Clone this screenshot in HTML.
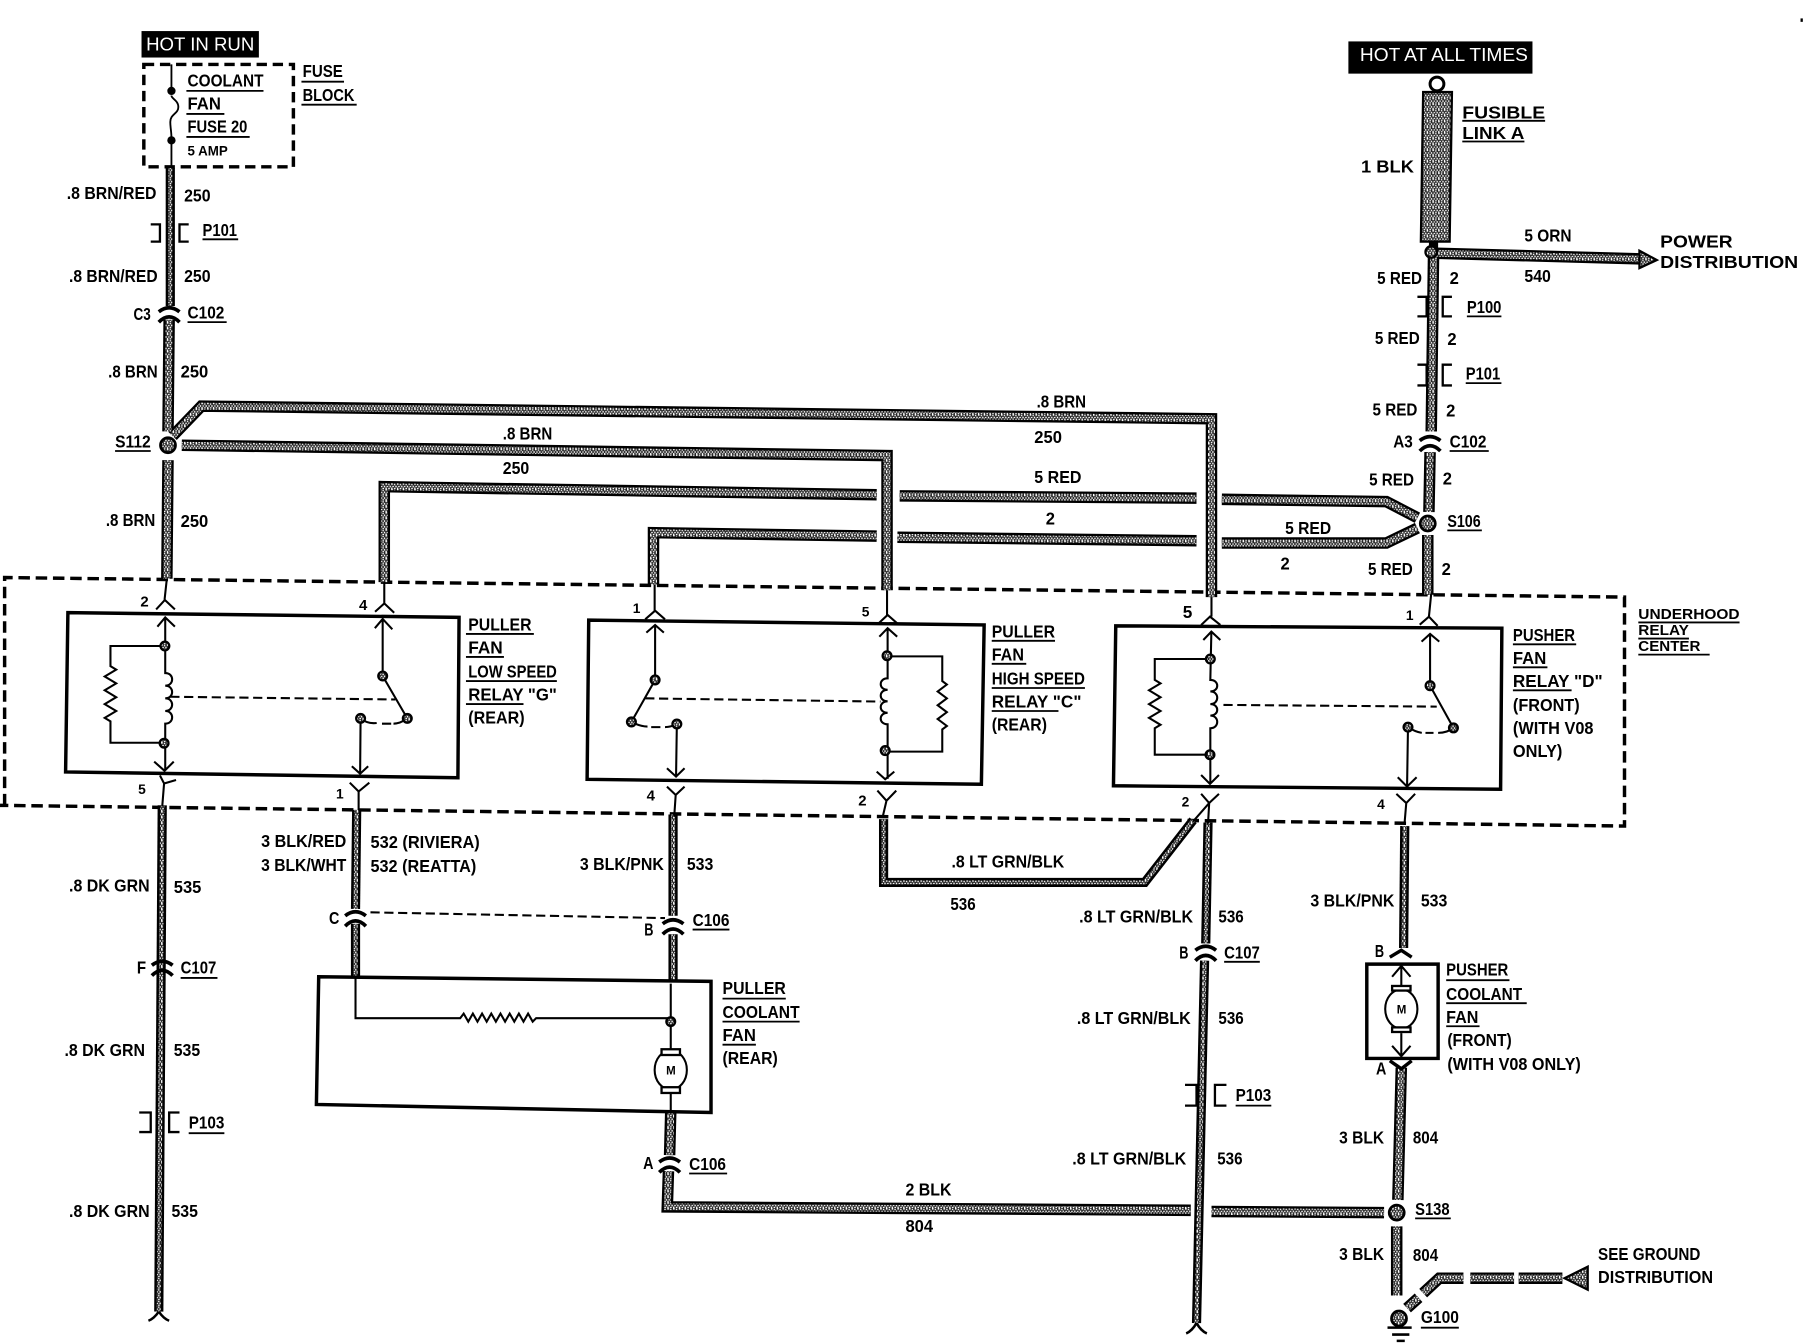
<!DOCTYPE html>
<html><head><meta charset="utf-8"><title>Coolant fan wiring</title>
<style>
html,body{margin:0;padding:0;background:#fff}
svg{display:block}
text{font-family:"Liberation Sans Narrow","Liberation Sans",sans-serif;font-weight:bold;font-size:15px;fill:#000;letter-spacing:0}
.s{font-family:"Liberation Sans",sans-serif;font-weight:bold}
.w{font-family:"Liberation Sans",sans-serif;font-weight:normal;fill:#fff;font-size:16px}
.ln{fill:none;stroke:#000;stroke-width:1.6}
.b{fill:none;stroke:#000;stroke-width:3}
</style></head><body>
<svg xmlns="http://www.w3.org/2000/svg" width="1804" height="1344" viewBox="0 0 1568 1168.2">
<defs>
<pattern id="sp" width="5" height="5" patternUnits="userSpaceOnUse">
<rect width="5" height="5" fill="#222"/>
<rect x="0" y="0" width="1.4" height="1.4" fill="#fff"/><rect x="2.4" y="0.6" width="1.2" height="1.2" fill="#fff"/>
<rect x="1" y="2.4" width="1.4" height="1" fill="#fff"/><rect x="3.6" y="2.2" width="1.2" height="1.4" fill="#fff"/>
<rect x="0" y="3.8" width="1.2" height="1.2" fill="#fff"/><rect x="2.4" y="4" width="1.4" height="1" fill="#fff"/>
</pattern>
<g id="thick" fill="none">
<path d="M147 278L146 375"/>
<path d="M150 379L175 353L1053 364V519"/>
<path d="M158 387L771 396V513"/>
<path d="M146 400L145 503"/>
<path d="M762 430L334 423V506"/>
<path d="M1040 433L782 431"/>
<path d="M1062 434L1205 436L1232 450"/>
<path d="M762 466L568 463V508"/>
<path d="M1040 470L780 467"/>
<path d="M1062 472L1205 472L1232 459"/>
<path d="M1244 220L1426 225"/>
<path d="M1246 222L1244 375"/>
<path d="M1243 393L1242 445"/>
<path d="M1241 465L1241 517"/>
<path d="M583 966L582 1004"/>
<path d="M581 1018L580 1049L1035 1052"/>
<path d="M1053 1053L1203 1054"/>
<path d="M1214 1066L1214 1126"/>
<path d="M1218 928L1215 1043"/>
<path d="M1358 1111H1320M1316 1111H1278M1272 1111H1251L1237 1124M1233 1128L1223 1137"/>
</g>
<g id="thin" fill="none">
<path d="M148 146L148 266"/>
<path d="M141 700L138 1140"/>
<path d="M310 704L309 790"/>
<path d="M309 803L309 848"/>
<path d="M585 708L585 796"/>
<path d="M585 812L585 853"/>
<path d="M768 712V767H995L1037 713"/>
<path d="M1050 715L1048 820"/>
<path d="M1047 835L1040 1150"/>
<path d="M1221 718L1220 824"/>
</g>
<g id="conn" fill="none" stroke="#000" stroke-width="3.2">
<path d="M-9 -1Q0 -8 9 -1"/>
<path d="M-9 8Q0 -1 9 8"/>
</g>
</defs>
<rect width="1568" height="1168.2" fill="#fff"/>

<!-- underhood relay center dashed outline -->
<path d="M4 700V502L1412 519V718L0 700" fill="none" stroke="#000" stroke-width="3" stroke-dasharray="10 5"/>
<!-- fuse block -->
<rect x="125" y="56" width="130" height="89" fill="none" stroke="#000" stroke-width="3" stroke-dasharray="9 5"/>

<!-- wires -->
<use href="#thick" stroke="#000" stroke-width="10"/>
<use href="#thick" stroke="url(#sp)" stroke-width="6"/>
<use href="#thin" stroke="#000" stroke-width="8"/>
<use href="#thin" stroke="url(#sp)" stroke-width="3.6"/>

<!-- fusible link -->
<polygon points="1237,80 1262,80 1260,210 1235,210" fill="url(#sp)" stroke="#000" stroke-width="2"/>
<path d="M1246 210V222" stroke="#000" stroke-width="8"/>
<circle cx="1249" cy="73" r="6" fill="#fff" stroke="#000" stroke-width="2.6"/>
<circle cx="1244" cy="219" r="5" fill="url(#sp)" stroke="#000" stroke-width="2"/>
<polygon points="1425,218 1440,226 1425,233" fill="url(#sp)" stroke="#000" stroke-width="2"/>

<!-- splices -->
<g fill="url(#sp)" stroke="#000" stroke-width="2.4">
<circle cx="146" cy="387" r="6.5"/>
<circle cx="1241" cy="455" r="6.5"/>
<circle cx="1214" cy="1054" r="6.5"/>
<circle cx="1216" cy="1146" r="6.5"/>
</g>
<polygon points="1360,1111 1380,1101 1380,1121" fill="url(#sp)" stroke="#000" stroke-width="2"/>
<path d="M1206 1154H1227M1210 1160H1225M1214 1165.5H1221" stroke="#000" stroke-width="2.2" fill="none"/>
<path d="M1040 1150q-4 7 -9 9M1040 1150q4 7 9 9M138 1140q-4 6 -9 8M138 1140q4 6 9 8" fill="none" stroke="#000" stroke-width="2.2"/>

<!-- connectors -->
<use href="#conn" x="147" y="272"/>
<use href="#conn" x="1243" y="384"/>
<use href="#conn" x="141" y="840"/>
<use href="#conn" x="309" y="797"/>
<use href="#conn" x="585" y="804"/>
<use href="#conn" x="582" y="1011"/>
<use href="#conn" x="1048" y="827"/>

<!-- hot boxes -->
<rect x="123" y="27" width="102" height="23" fill="#000"/>
<rect x="1172" y="36" width="160" height="28" fill="#000"/>

<!-- fuse -->
<path class="ln" d="M149 56V79M149 122V145M149 83c0 3 6 4 6 10c0 6 -7 6 -7 13c0 5 1 8 1 14"/>
<circle cx="149" cy="79" r="3.6"/><circle cx="149" cy="122" r="3.6"/>

<!-- relay boxes -->
<path class="b" d="M59 532.5L399 536.6L398 676L57 671Z"/>
<path class="b" d="M511.7 539L855.4 543.2L853 681.7L510.3 677.4Z"/>
<path class="b" d="M969.8 544L1305.4 546L1304.3 686L967.8 683Z"/>
<path class="b" d="M277 849L618 853L618 967L275 960Z"/>
<path class="b" d="M1188 838H1250V920H1188Z"/>

<!-- relay G internals -->
<g fill="none" stroke="#000" stroke-width="1.8">
<path d="M145 503L143 521.5M135.7 529.7L143.3 521.5L152 529.7"/>
<path d="M136.8 544.7L143.6 536.6L152 544.7M143.6 537V585c8 0 8 11 0 11c8 0 8 11 0 11c8 0 8 11 0 11c8 0 8 11 0 11V669M134 662L143 670L151 662"/>
<path d="M143 561.5H96V579l5 3l-10 6l10 6l-10 6l10 6l-10 6l10 6l-10 6l5 3V645.6H142"/>
<path d="M139 674L142.6 681L153 678M142.6 681L141 701"/>
<path d="M148 605.6L343.6 608" stroke-dasharray="8 4"/>
<path d="M334 506V524.5M326 531.7L334 524.5L342.6 532.6M325.8 546L332.6 538L341 547M332.6 538V587.6L354 624.4" />
<path d="M313.4 624.4L313 672M305.8 666L313 672.5L320 666M304 680.3L311.7 688L321 680.3M311.7 688V704"/>
<path d="M313.4 624.4q6 5 14 4M332 629h8M342 629q6 0 12 -4.6" stroke-width="1.8"/>

<!-- relay C internals -->
<path d="M569 508V530.8M560.8 538.3L569.4 530.8L578 538.3M561.8 549.9L569.4 543.2L577 549.9M569.4 543.2V591L548.8 627.5"/>
<path d="M548.8 627.5q8 4 14 4M566 632h8M578 632q5 0 10 -2.7"/>
<path d="M588.3 629.3L587.6 675M579.7 667.8L587.6 675L595 667.8M579.7 683.7L587.3 691L595 683.7M587.3 691L586 710"/>
<path d="M771 513V534.5M763.6 541.8L771.5 534.5L779.8 541.8M764.3 553.4L771.5 546L779.8 553.4M771.5 546V589.6c-8 0 -8 10 0 10c-8 0 -8 10 0 10c-8 0 -8 10 0 10c-8 0 -8 10 0 10V677M762 670.7L769.4 677.3L777.3 670.7"/>
<path d="M771 570.5H819V592l4 3l-8 6l8 6l-8 6l8 6l-8 6l8 6l-4 3V653.3H769.4"/>
<path d="M762.6 687.2L770.5 696L779 687.2M770.5 696L767 711"/>
<path d="M560.8 607L765.3 609.8" stroke-dasharray="8 4"/>

<!-- relay D internals -->
<path d="M1053 519V536M1044 543.2L1051.7 536L1060.7 543.2M1045.9 556.3L1052.9 549L1060.7 556.3M1052.9 549L1052 591c8 0 8 10 0 10c8 0 8 11 0 11c8 0 8 10 0 10c8 0 8 11 0 11V681M1044 673.6L1051.7 681.4L1059.5 673.6"/>
<path d="M1052 572.8H1003.7V591l5 3l-10 6l10 6l-10 6l10 6l-10 6l10 6l-5 3V656H1051.7"/>
<path d="M1044 690L1051 698L1059.5 690M1051 698L1050 716M1051 698L1037 714"/>
<path d="M1063.4 612.7L1248.8 614.2" stroke-dasharray="8 4"/>
<path d="M1244 516L1242 536M1234 543L1242 536L1249.6 544M1235.6 557.7L1243 551L1251 557.7M1243 551V596L1263.3 632.7"/>
<path d="M1223.8 632q6 4 12 5M1239 637h7M1250 637q8 0 13 -4.3"/>
<path d="M1223.8 632L1223 683.7M1214.9 675.6L1223 683.7L1231.3 675.6M1213.7 690L1222.3 698L1230 690M1222.3 698L1220.7 717"/>

<!-- puller coolant fan internals -->
<path d="M309 849V885H400l3 -4l4 7l4 -7l4 7l4 -7l4 7l4 -7l4 7l4 -7l4 7l4 -7l4 7l4 -7l4 7l4 -7l4 7l3 -3H583M583 855V912M583 948V965"/>
<ellipse cx="583" cy="930" rx="14" ry="17"/>
<!-- pusher motor internals -->
<path d="M1218 839V857M1210 849L1218 839.5L1226 849M1218 898V918M1210 909L1218 918L1226 909"/>
<ellipse cx="1218" cy="877" rx="14" ry="17"/>
<path d="M1208 832L1218 826L1227 832" stroke-width="3"/>
<path d="M1208 922L1218 929L1227 922" stroke-width="3"/>
<path d="M322 793L578 798" stroke-dasharray="8 4"/>
</g>
<g fill="#fff" stroke="#000" stroke-width="2">
<rect x="575" y="912" width="16" height="5"/><rect x="575" y="945" width="16" height="5"/>
<rect x="1210" y="857" width="16" height="4"/><rect x="1210" y="893" width="16" height="4"/>
</g>

<!-- nodes -->
<g fill="url(#sp)" stroke="#000" stroke-width="2">
<circle cx="143.3" cy="561.5" r="3.8"/><circle cx="142.6" cy="646" r="3.8"/><circle cx="332.6" cy="587.6" r="3.8"/><circle cx="354" cy="624.4" r="3.8"/><circle cx="313.4" cy="624.4" r="3.8"/>
<circle cx="569.4" cy="591" r="3.8"/><circle cx="548.8" cy="627.5" r="3.8"/><circle cx="588.3" cy="629.3" r="3.8"/><circle cx="771" cy="570" r="3.8"/><circle cx="769.4" cy="652.4" r="3.8"/>
<circle cx="1052" cy="572.8" r="3.8"/><circle cx="1051.7" cy="656" r="3.8"/><circle cx="1243" cy="596" r="3.8"/><circle cx="1263.3" cy="632.7" r="3.8"/><circle cx="1223.8" cy="632" r="3.8"/>
<circle cx="583" cy="888" r="3.8"/>
</g>

<!-- brackets -->
<path class="ln" stroke-width="2" style="stroke-width:2" d="M131 195H139V210H131M164 195H156V210H164M1232 258H1240V275H1232M1262 258H1254V275H1262M1232 317H1240V335H1232M1262 317H1254V335H1262M121 967H131V984H121M156 967H147V984H156M1030 943H1040V961H1030M1066 943H1056V961H1066"/>

<!-- underlines -->
<path class="ln" d="M162 79H229M162 99H195M162 119H217M262 71H299M262 91H310M176 208H207M163 280H197M100 392H131M405 551H464M405 571H438M405 592H484M405 612H455M862 557H917M862 577H892M862 598H943M862 618H920M1315 560H1370M1315 580H1345M1315 600H1366M1424 541H1512M1424 555H1468M1424 569H1486M1260 392H1294M1275 275H1305M1274 333H1305M1258 461H1288M628 868H683M628 888H695M628 908H657M1257 852H1312M1257 872H1327M1257 892H1286M164 985H195M1074 961H1105M602 808H634M599 1020H632M1064 836H1095M157 850H189M1230 1059H1261M1235 1154H1268M1271 105H1343M1271 123H1325"/>

<!-- labels -->
<text class="w" x="127" y="44" textLength="94" lengthAdjust="spacingAndGlyphs">HOT IN RUN</text>
<text class="w" x="1182" y="53" textLength="146" lengthAdjust="spacingAndGlyphs">HOT AT ALL TIMES</text>
<text x="163" y="75" textLength="66" lengthAdjust="spacingAndGlyphs">COOLANT</text>
<text x="163" y="95" textLength="29" lengthAdjust="spacingAndGlyphs">FAN</text>
<text x="163" y="115" textLength="52" lengthAdjust="spacingAndGlyphs">FUSE 20</text>
<text x="163" y="135" textLength="35" lengthAdjust="spacingAndGlyphs" style="font-size:12px">5 AMP</text>
<text x="263" y="67" textLength="35" lengthAdjust="spacingAndGlyphs">FUSE</text>
<text x="263" y="88" textLength="45" lengthAdjust="spacingAndGlyphs">BLOCK</text>
<text x="58" y="173" textLength="78" lengthAdjust="spacingAndGlyphs">.8 BRN/RED</text>
<text x="160" y="175" textLength="23" lengthAdjust="spacingAndGlyphs">250</text>
<text x="176" y="205" textLength="30" lengthAdjust="spacingAndGlyphs">P101</text>
<text x="60" y="245" textLength="77" lengthAdjust="spacingAndGlyphs">.8 BRN/RED</text>
<text x="160" y="245" textLength="23" lengthAdjust="spacingAndGlyphs">250</text>
<text x="116" y="278" textLength="15" lengthAdjust="spacingAndGlyphs">C3</text>
<text x="163" y="277" textLength="32" lengthAdjust="spacingAndGlyphs">C102</text>
<text x="94" y="328" textLength="43" lengthAdjust="spacingAndGlyphs">.8 BRN</text>
<text x="157" y="328" textLength="24" lengthAdjust="spacingAndGlyphs">250</text>
<text x="100" y="389" textLength="31" lengthAdjust="spacingAndGlyphs">S112</text>
<text x="92" y="457" textLength="43" lengthAdjust="spacingAndGlyphs">.8 BRN</text>
<text x="157" y="458" textLength="24" lengthAdjust="spacingAndGlyphs">250</text>
<text x="437" y="382" textLength="43" lengthAdjust="spacingAndGlyphs">.8 BRN</text>
<text x="437" y="412" textLength="23" lengthAdjust="spacingAndGlyphs">250</text>
<text x="901" y="354" textLength="43" lengthAdjust="spacingAndGlyphs">.8 BRN</text>
<text x="899" y="385" textLength="24" lengthAdjust="spacingAndGlyphs">250</text>
<text x="899" y="420" textLength="41" lengthAdjust="spacingAndGlyphs">5 RED</text>
<text x="909" y="456" textLength="8" lengthAdjust="spacingAndGlyphs">2</text>
<text x="1117" y="464" textLength="40" lengthAdjust="spacingAndGlyphs">5 RED</text>
<text x="1113" y="495" textLength="8" lengthAdjust="spacingAndGlyphs">2</text>

<text class="s" x="1271" y="103" textLength="72" lengthAdjust="spacingAndGlyphs">FUSIBLE</text>
<text class="s" x="1271" y="121" textLength="54" lengthAdjust="spacingAndGlyphs">LINK A</text>
<text class="s" x="1183" y="150" textLength="46" lengthAdjust="spacingAndGlyphs">1 BLK</text>
<text class="s" x="1443" y="215" textLength="63" lengthAdjust="spacingAndGlyphs">POWER</text>
<text class="s" x="1443" y="233" textLength="120" lengthAdjust="spacingAndGlyphs">DISTRIBUTION</text>
<text x="1325" y="210" textLength="41" lengthAdjust="spacingAndGlyphs">5 ORN</text>
<text x="1325" y="245" textLength="23" lengthAdjust="spacingAndGlyphs">540</text>
<text x="1197" y="247" textLength="39" lengthAdjust="spacingAndGlyphs">5 RED</text>
<text x="1260" y="247" textLength="8" lengthAdjust="spacingAndGlyphs">2</text>
<text x="1275" y="272" textLength="30" lengthAdjust="spacingAndGlyphs">P100</text>
<text x="1195" y="299" textLength="39" lengthAdjust="spacingAndGlyphs">5 RED</text>
<text x="1258" y="300" textLength="8" lengthAdjust="spacingAndGlyphs">2</text>
<text x="1274" y="330" textLength="30" lengthAdjust="spacingAndGlyphs">P101</text>
<text x="1193" y="361" textLength="39" lengthAdjust="spacingAndGlyphs">5 RED</text>
<text x="1257" y="362" textLength="8" lengthAdjust="spacingAndGlyphs">2</text>
<text x="1211" y="389" textLength="17" lengthAdjust="spacingAndGlyphs">A3</text>
<text x="1260" y="389" textLength="32" lengthAdjust="spacingAndGlyphs">C102</text>
<text x="1190" y="422" textLength="39" lengthAdjust="spacingAndGlyphs">5 RED</text>
<text x="1254" y="421" textLength="8" lengthAdjust="spacingAndGlyphs">2</text>
<text x="1258" y="458" textLength="29" lengthAdjust="spacingAndGlyphs">S106</text>
<text x="1189" y="500" textLength="39" lengthAdjust="spacingAndGlyphs">5 RED</text>
<text x="1253" y="500" textLength="8" lengthAdjust="spacingAndGlyphs">2</text>

<text x="1424" y="538" textLength="88" lengthAdjust="spacingAndGlyphs" style="font-size:13px">UNDERHOOD</text>
<text x="1424" y="552" textLength="44" lengthAdjust="spacingAndGlyphs" style="font-size:13px">RELAY</text>
<text x="1424" y="566" textLength="54" lengthAdjust="spacingAndGlyphs" style="font-size:13px">CENTER</text>

<text x="407" y="548" textLength="55" lengthAdjust="spacingAndGlyphs">PULLER</text>
<text x="407" y="568" textLength="30" lengthAdjust="spacingAndGlyphs">FAN</text>
<text x="407" y="589" textLength="77" lengthAdjust="spacingAndGlyphs">LOW SPEED</text>
<text x="407" y="609" textLength="77" lengthAdjust="spacingAndGlyphs">RELAY "G"</text>
<text x="407" y="629" textLength="49" lengthAdjust="spacingAndGlyphs">(REAR)</text>
<text x="862" y="554" textLength="55" lengthAdjust="spacingAndGlyphs">PULLER</text>
<text x="862" y="574" textLength="28" lengthAdjust="spacingAndGlyphs">FAN</text>
<text x="862" y="595" textLength="81" lengthAdjust="spacingAndGlyphs">HIGH SPEED</text>
<text x="862" y="615" textLength="78" lengthAdjust="spacingAndGlyphs">RELAY "C"</text>
<text x="862" y="635" textLength="48" lengthAdjust="spacingAndGlyphs">(REAR)</text>
<text x="1315" y="557" textLength="54" lengthAdjust="spacingAndGlyphs">PUSHER</text>
<text x="1315" y="577" textLength="29" lengthAdjust="spacingAndGlyphs">FAN</text>
<text x="1315" y="597" textLength="78" lengthAdjust="spacingAndGlyphs">RELAY "D"</text>
<text x="1315" y="618" textLength="58" lengthAdjust="spacingAndGlyphs">(FRONT)</text>
<text x="1315" y="638" textLength="70" lengthAdjust="spacingAndGlyphs">(WITH V08</text>
<text x="1315" y="658" textLength="43" lengthAdjust="spacingAndGlyphs">ONLY)</text>
<text x="628" y="864" textLength="55" lengthAdjust="spacingAndGlyphs">PULLER</text>
<text x="628" y="885" textLength="67" lengthAdjust="spacingAndGlyphs">COOLANT</text>
<text x="628" y="905" textLength="29" lengthAdjust="spacingAndGlyphs">FAN</text>
<text x="628" y="925" textLength="48" lengthAdjust="spacingAndGlyphs">(REAR)</text>
<text x="1257" y="848" textLength="54" lengthAdjust="spacingAndGlyphs">PUSHER</text>
<text x="1257" y="869" textLength="66" lengthAdjust="spacingAndGlyphs">COOLANT</text>
<text x="1257" y="889" textLength="28" lengthAdjust="spacingAndGlyphs">FAN</text>
<text x="1258" y="909" textLength="56" lengthAdjust="spacingAndGlyphs">(FRONT)</text>
<text x="1258" y="930" textLength="116" lengthAdjust="spacingAndGlyphs">(WITH V08 ONLY)</text>

<text x="122" y="527" style="font-size:13px">2</text>
<text x="312" y="530" style="font-size:13px">4</text>
<text x="550" y="533" style="font-size:12px">1</text>
<text x="749" y="536" style="font-size:12px">5</text>
<text x="1028" y="537" style="font-size:15px">5</text>
<text x="1222" y="539" style="font-size:12px">1</text>
<text x="120" y="690" style="font-size:12px">5</text>
<text x="292" y="694" style="font-size:12px">1</text>
<text x="562" y="696" style="font-size:13px">4</text>
<text x="746" y="700" style="font-size:13px">2</text>
<text x="1027" y="701" style="font-size:12px">2</text>
<text x="1197" y="703" style="font-size:12px">4</text>

<text x="60" y="775" textLength="70" lengthAdjust="spacingAndGlyphs">.8 DK GRN</text>
<text x="151" y="776" textLength="24" lengthAdjust="spacingAndGlyphs">535</text>
<text x="119" y="846" textLength="8" lengthAdjust="spacingAndGlyphs">F</text>
<text x="157" y="846" textLength="31" lengthAdjust="spacingAndGlyphs">C107</text>
<text x="56" y="918" textLength="70" lengthAdjust="spacingAndGlyphs">.8 DK GRN</text>
<text x="151" y="918" textLength="23" lengthAdjust="spacingAndGlyphs">535</text>
<text x="164" y="981" textLength="31" lengthAdjust="spacingAndGlyphs">P103</text>
<text x="60" y="1058" textLength="70" lengthAdjust="spacingAndGlyphs">.8 DK GRN</text>
<text x="149" y="1058" textLength="23" lengthAdjust="spacingAndGlyphs">535</text>
<text x="227" y="736" textLength="74" lengthAdjust="spacingAndGlyphs">3 BLK/RED</text>
<text x="322" y="737" textLength="95" lengthAdjust="spacingAndGlyphs">532 (RIVIERA)</text>
<text x="227" y="757" textLength="74" lengthAdjust="spacingAndGlyphs">3 BLK/WHT</text>
<text x="322" y="758" textLength="92" lengthAdjust="spacingAndGlyphs">532 (REATTA)</text>
<text x="286" y="803" textLength="9" lengthAdjust="spacingAndGlyphs">C</text>
<text x="560" y="813" textLength="8" lengthAdjust="spacingAndGlyphs">B</text>
<text x="602" y="805" textLength="32" lengthAdjust="spacingAndGlyphs">C106</text>
<text x="504" y="756" textLength="73" lengthAdjust="spacingAndGlyphs">3 BLK/PNK</text>
<text x="597" y="756" textLength="23" lengthAdjust="spacingAndGlyphs">533</text>
<text x="827" y="754" textLength="98" lengthAdjust="spacingAndGlyphs">.8 LT GRN/BLK</text>
<text x="826" y="791" textLength="22" lengthAdjust="spacingAndGlyphs">536</text>
<text x="938" y="802" textLength="99" lengthAdjust="spacingAndGlyphs">.8 LT GRN/BLK</text>
<text x="1059" y="802" textLength="22" lengthAdjust="spacingAndGlyphs">536</text>
<text x="1025" y="833" textLength="8" lengthAdjust="spacingAndGlyphs">B</text>
<text x="1064" y="833" textLength="31" lengthAdjust="spacingAndGlyphs">C107</text>
<text x="936" y="890" textLength="99" lengthAdjust="spacingAndGlyphs">.8 LT GRN/BLK</text>
<text x="1059" y="890" textLength="22" lengthAdjust="spacingAndGlyphs">536</text>
<text x="1074" y="957" textLength="31" lengthAdjust="spacingAndGlyphs">P103</text>
<text x="932" y="1012" textLength="99" lengthAdjust="spacingAndGlyphs">.8 LT GRN/BLK</text>
<text x="1058" y="1012" textLength="22" lengthAdjust="spacingAndGlyphs">536</text>
<text x="1139" y="788" textLength="73" lengthAdjust="spacingAndGlyphs">3 BLK/PNK</text>
<text x="1235" y="788" textLength="23" lengthAdjust="spacingAndGlyphs">533</text>
<text x="1195" y="832" textLength="8" lengthAdjust="spacingAndGlyphs">B</text>
<text x="1196" y="934" textLength="9" lengthAdjust="spacingAndGlyphs">A</text>
<text x="1164" y="994" textLength="39" lengthAdjust="spacingAndGlyphs">3 BLK</text>
<text x="1228" y="994" textLength="22" lengthAdjust="spacingAndGlyphs">804</text>
<text x="1230" y="1056" textLength="30" lengthAdjust="spacingAndGlyphs">S138</text>
<text x="1164" y="1095" textLength="39" lengthAdjust="spacingAndGlyphs">3 BLK</text>
<text x="1228" y="1096" textLength="22" lengthAdjust="spacingAndGlyphs">804</text>
<text x="787" y="1039" textLength="40" lengthAdjust="spacingAndGlyphs">2 BLK</text>
<text x="787" y="1071" textLength="24" lengthAdjust="spacingAndGlyphs">804</text>
<text x="559" y="1016" textLength="9" lengthAdjust="spacingAndGlyphs">A</text>
<text x="599" y="1017" textLength="32" lengthAdjust="spacingAndGlyphs">C106</text>
<text x="1235" y="1150" textLength="33" lengthAdjust="spacingAndGlyphs">G100</text>
<text x="1389" y="1095" textLength="89" lengthAdjust="spacingAndGlyphs">SEE GROUND</text>
<text x="1389" y="1115" textLength="100" lengthAdjust="spacingAndGlyphs">DISTRIBUTION</text>
<text class="s" x="579" y="934" style="font-size:10px">M</text>
<text class="s" x="1214" y="881" style="font-size:10px">M</text>
<rect x="1565" y="16" width="2" height="3" fill="#000"/>
</svg>
</body></html>
